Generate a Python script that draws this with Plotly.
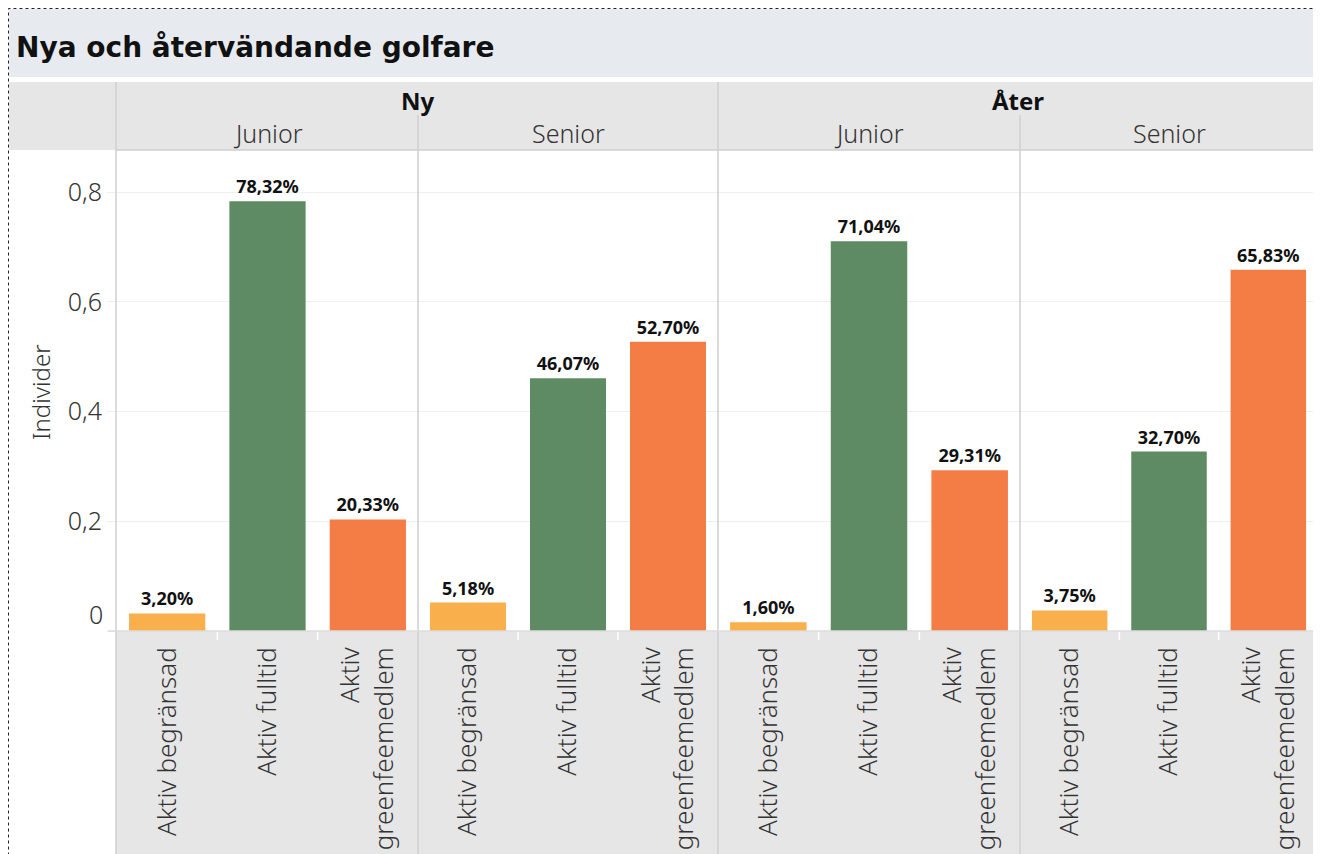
import plotly.graph_objects as go

# ---- data ----
statuses = ["Aktiv begränsad", "Aktiv fulltid", "Aktiv greenfeemedlem"]
status_ticks = ["Aktiv begränsad", "Aktiv fulltid", "Aktiv<br>greenfeemedlem"]
groups = ["Ny", "Åter"]
ages = ["Junior", "Senior"]
ny_junior = [0.0320, 0.7832, 0.2033]
ny_senior = [0.0518, 0.4607, 0.5270]
ater_junior = [0.0160, 0.7104, 0.2931]
ater_senior = [0.0375, 0.3270, 0.6583]
y_ticks = [0, 0.2, 0.4, 0.6, 0.8]
y_ticktext = ["0", "0,2", "0,4", "0,6", "0,8"]
title_text = "Nya och återvändande golfare"
y_title = "Individer"

colors = ["#f9af4b", "#5f8b64", "#f47c45"]

OFF = 8  # page body margin
W, H = 1321 - OFF, 854 - OFF
FONT = "Noto Sans"
TXT = "#333333"


def px(x):
    return (x - OFF) / W


def py(y):
    return 1 - (y - OFF) / H


panels = [ny_junior, ny_senior, ater_junior, ater_senior]
panel_edges = [117, 418, 718, 1020, 1318]
y_top_px, y_zero_px = 150, 631
y_max = (y_zero_px - y_top_px) / ((y_zero_px - 192) / 0.8)

fig = go.Figure()
for i, vals in enumerate(panels):
    xa = "x" if i == 0 else f"x{i+1}"
    fig.add_trace(go.Bar(
        x=statuses, y=vals, xaxis=xa, yaxis="y",
        marker=dict(color=colors, line=dict(width=0)),
        width=0.76,
        text=[f"{v*100:.2f}%".replace(".", ",") for v in vals],
        textposition="outside", cliponaxis=False,
        textfont=dict(family=FONT, size=18, color="#111111", weight="bold"),
        hoverinfo="skip", showlegend=False,
    ))

layout = dict(
    width=W, height=H,
    margin=dict(l=0, r=0, t=0, b=0),
    paper_bgcolor="white", plot_bgcolor="rgba(0,0,0,0)",
    font=dict(family=FONT, color=TXT),
    yaxis=dict(
        domain=[py(y_zero_px), py(y_top_px)], range=[0, y_max], anchor="x",
        tickvals=y_ticks, ticktext=[""] + y_ticktext[1:],
        tickfont=dict(size=25, color=TXT, family=FONT, weight=300),
        showgrid=True, gridcolor="#efefef", gridwidth=1,
        ticks="outside", ticklen=9, tickcolor="#efefef",
        zeroline=False, showline=False,
        fixedrange=True,
    ),
)
for i in range(4):
    key = "xaxis" if i == 0 else f"xaxis{i+1}"
    layout[key] = dict(
        domain=[px(panel_edges[i]), px(panel_edges[i + 1])],
        anchor="y", type="category", range=[-0.5, 2.5],
        tickvals=statuses, ticktext=status_ticks, tickangle=-90,
        tickfont=dict(size=26, color=TXT, family=FONT, weight=300),
        ticks="", ticklabelstandoff=10,
        showgrid=False, zeroline=False, showline=False, fixedrange=True,
    )
fig.update_layout(**layout)

shapes = []
# title background
shapes.append(dict(type="rect", xref="paper", yref="paper", x0=px(9), x1=px(1316), y0=py(77), y1=py(9),
                   fillcolor="#e7eaee", line=dict(width=0), layer="below"))
# header background
shapes.append(dict(type="rect", xref="paper", yref="paper", x0=px(9), x1=px(1316), y0=py(150), y1=py(82),
                   fillcolor="#e6e6e6", line=dict(width=0), layer="below"))
# bottom axis-label background
shapes.append(dict(type="rect", xref="paper", yref="paper", x0=px(116), x1=px(1318), y0=0, y1=py(631),
                   fillcolor="#e6e6e6", line=dict(width=0), layer="below"))
LINE = "#cfcfcf"
# vertical separators
for xv, ytop in [(116, 82), (418, 115), (718, 82), (1020, 115), (1318, 82)]:
    shapes.append(dict(type="line", xref="paper", yref="paper", x0=px(xv), x1=px(xv), y0=0, y1=py(ytop),
                       line=dict(color=LINE, width=1.5)))
# horizontal line under header
shapes.append(dict(type="line", xref="paper", yref="paper", x0=px(116), x1=px(1318), y0=py(150), y1=py(150),
                   line=dict(color=LINE, width=1.5)))
# zero line
shapes.append(dict(type="line", xref="paper", yref="paper", x0=px(108), x1=px(1318), y0=py(631), y1=py(631),
                   line=dict(color="#dcdcdc", width=1.5)))
# small white separators between categories at the axis
for k in range(4):
    for j in (1, 2):
        xv = panel_edges[k] + (panel_edges[k + 1] - panel_edges[k]) * j / 3
        shapes.append(dict(type="line", xref="paper", yref="paper", x0=px(xv), x1=px(xv), y0=py(640), y1=py(632),
                           line=dict(color="white", width=1.5)))
# dotted border
shapes.append(dict(type="rect", xref="paper", yref="paper", x0=px(8.5), x1=px(1316.5), y0=-0.01, y1=py(8.5),
                   line=dict(color="#222222", width=1, dash="dot"), fillcolor="rgba(0,0,0,0)"))
fig.update_layout(shapes=shapes)


def note(text, x, y, size, color=TXT, weight=300, family=FONT, xanchor="center", angle=0):
    return dict(text=text, x=px(x), y=py(y), xref="paper", yref="paper",
                xanchor=xanchor, yanchor="middle", textangle=angle, showarrow=False,
                font=dict(family=family, size=size, color=color, weight=weight))


ann = []
ann.append(note(f"<b>{title_text}</b>", 14, 48, 28, color="#111111", weight=700,
                family="DejaVu Sans", xanchor="left"))
ann.append(note(f"<b>{groups[0]}</b>", 417.5, 100, 24, color="#111111", weight=700))
ann.append(note(f"<b>{groups[1]}</b>", 1018, 100, 24, color="#111111", weight=700))
for i in range(4):
    cx = (panel_edges[i] + panel_edges[i + 1]) / 2
    ann.append(note(ages[i % 2], cx, 133, 25))
ann.append(note(y_title, 40, 392, 24, angle=-90))
ann.append(note(y_ticktext[0], 105, 614, 25, xanchor="right"))
fig.update_layout(annotations=ann)

fig.write_html("out.html")
